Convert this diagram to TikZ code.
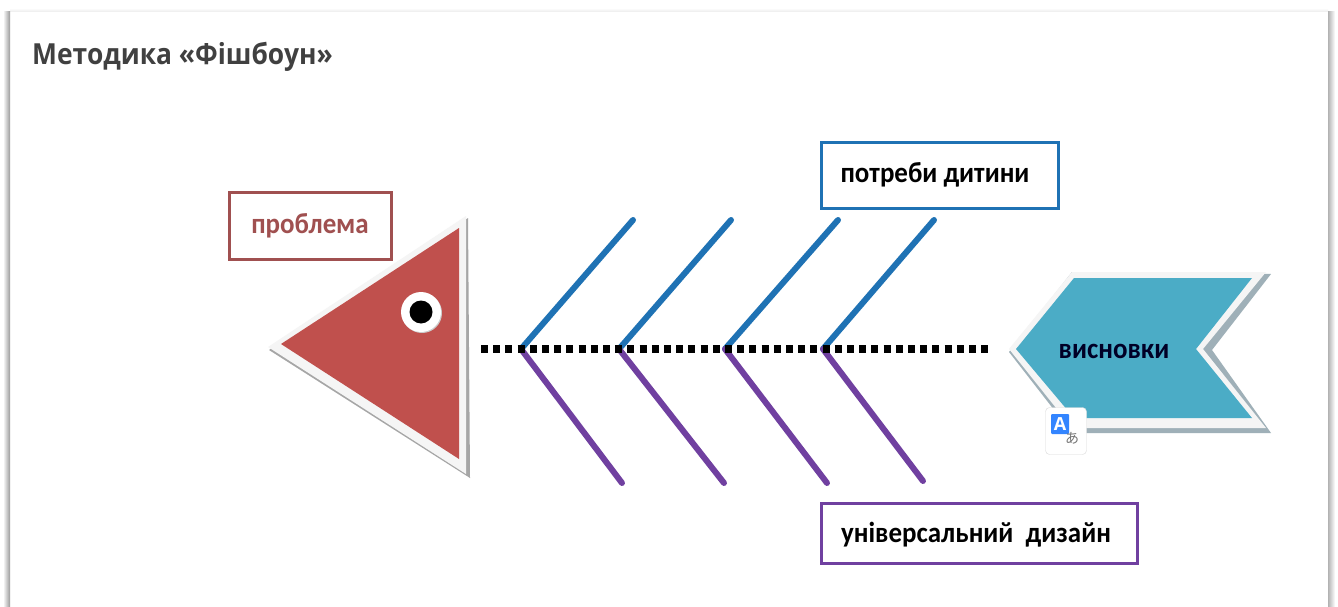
\documentclass[tikz,border=0pt]{standalone}
\usepackage{fontspec}
\setmainfont{Open Sans}
\newfontfamily\lab{Carlito}
\newfontfamily\cjkf{Noto Sans CJK JP}
\usetikzlibrary{shapes.geometric}
\definecolor{fishred}{HTML}{C0504D}
\definecolor{redline}{HTML}{A05050}
\definecolor{boneblue}{HTML}{1F72B4}
\definecolor{bonepurple}{HTML}{7040A0}
\definecolor{tailblue}{HTML}{4BACC6}
\definecolor{titlegray}{HTML}{404040}
\definecolor{shadowgray}{HTML}{9FB0B8}
\tikzset{
  bonetop/.style={draw=boneblue,line width=6pt,line cap=round},
  bonebot/.style={draw=bonepurple,line width=6pt,line cap=round},
  labelbox/.style={draw,line width=3.2pt,fill=white,inner sep=0pt,anchor=north west},
  lbl/.style={font=\lab\bfseries\fontsize{29}{32}\selectfont,inner sep=0pt,xscale=.93},
}
\begin{document}
\begin{tikzpicture}[x=1pt,y=-1pt]
\useasboundingbox (0,0) rectangle (1338,607);
% card with soft edges
\fill[white] (0,0) rectangle (1338,607);
\fill[top color=white,bottom color=black!8] (10,8) rectangle (1328,12);
\fill[left color=white,right color=black!40] (3,12) rectangle (10,607);
\fill[left color=black!30,right color=white] (1328,12) rectangle (1335,607);
\node[anchor=west,inner sep=0pt,text=titlegray,font=\bfseries\fontsize{29}{32}\selectfont,xscale=.91] (title) at (32,57) {Методика «Фішбоун»};
% head
\path[fill=black!35] (269,350) -- (468,218) -- (470,478) -- cycle;
\path[fill=black!4] (268,347) -- (466,216) -- (466,474) -- cycle;
\path[fill=fishred] (281,344) -- (459,228) -- (459,459) -- cycle;
\node[circle,fill=black!20,minimum size=40pt,inner sep=0pt] (eyeshadow) at (422,313) {};
\node[circle,fill=white,minimum size=40pt,inner sep=0pt] (eye) at (421,312) {};
\node[circle,fill=black,minimum size=23pt,inner sep=0pt] (pupil) at (421,312) {};
% problem box
\node[labelbox,draw=redline,minimum width=162pt,minimum height=67pt] (problem) at (228,190.5) {};
\node[lbl,text=redline] (problemtext) at (310,226) {проблема};
% tail
\path[fill=shadowgray] (1009,352) -- (1072,272) -- (1271,274) -- (1212,350) -- (1271,433) -- (1072,433) -- cycle;
\path[fill=black!4] (1009,349) -- (1072,272) -- (1266,272) -- (1203,349) -- (1266,428) -- (1072,428) -- cycle;
\path[fill=tailblue] (1016,349) -- (1074,278) -- (1252,278) -- (1196,349) -- (1252,418) -- (1074,418) -- cycle;
\node[lbl,text=black!85!blue] (concl) at (1114,351) {висновки};
% spine
\coordinate (s0) at (481,349);
\coordinate (s1) at (990,349);
\coordinate (j1) at (521,349);
\coordinate (j2) at (619,349);
\coordinate (j3) at (725,349);
\coordinate (j4) at (823,349);
\coordinate (t1) at (633,220);
\coordinate (t2) at (731,220);
\coordinate (t3) at (838,220);
\coordinate (t4) at (934,220);
\coordinate (b1) at (622,483);
\coordinate (b2) at (724,483);
\coordinate (b3) at (827,483);
\coordinate (b4) at (923,481);
\foreach \i in {1,2,3,4}{
  \draw[bonetop] (j\i) -- (t\i);
  \draw[bonebot] (j\i) -- (b\i);
}
\draw[black,line width=8pt,dash pattern=on 7pt off 5.2pt] (s0) -- (s1);
% labels
\node[labelbox,draw=boneblue,minimum width=237pt,minimum height=66pt] (need) at (820,141) {};
\node[lbl,text=black] (needtext) at (935,175) {потреби дитини};
\node[labelbox,draw=bonepurple,minimum width=316pt,minimum height=60pt] (ud) at (820,502) {};
\node[lbl,text=black] (udtext) at (976,535) {універсальний\ \ дизайн};
% translate icon
\node[draw=black!15,fill=white,rounded corners=4pt,minimum width=41pt,minimum height=47pt,inner sep=0pt] (icon) at (1066,431) {};
\fill[blue!60!cyan!80!white,rounded corners=1pt] (1051,414) rectangle (1069,434);
\node[text=white,font=\bfseries\fontsize{18}{18}\selectfont,inner sep=0pt] (iconA) at (1060,424) {A};
\node[text=black!55,font=\cjkf\fontsize{14}{14}\selectfont,inner sep=0pt] (iconK) at (1072,438) {あ};
\end{tikzpicture}
\end{document}
